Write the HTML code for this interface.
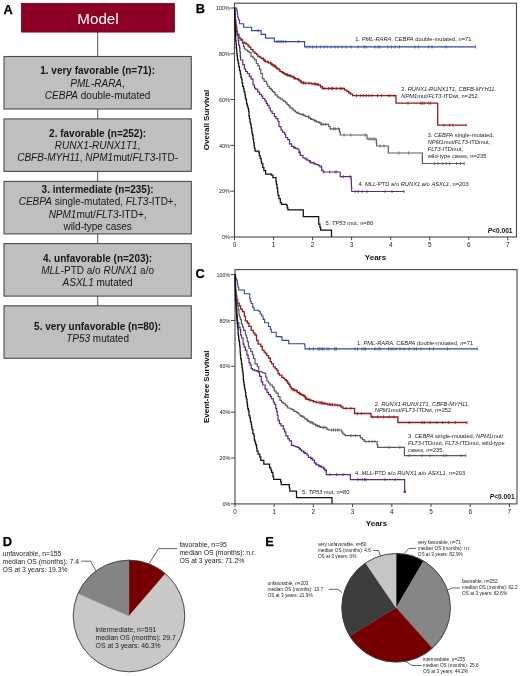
<!DOCTYPE html>
<html lang="en"><head><meta charset="utf-8"><title>Figure</title>
<style>html,body{margin:0;padding:0;background:#fff}svg{display:block;will-change:transform}</style>
</head><body>
<svg width="520" height="676" viewBox="0 0 520 676" font-family='"Liberation Sans", Arial, Helvetica, sans-serif'>
<rect x="0" y="0" width="520" height="676" fill="#ffffff"/>
<line x1="97.7" y1="30" x2="97.7" y2="310" stroke="#555555" stroke-width="1"/>
<rect x="21.3" y="3.3" width="153.2" height="28.8" fill="#8e0025" stroke="#5e0018" stroke-width="0.7"/>
<text x="98.00" y="23.70" font-size="15.20" text-anchor="middle" font-weight="normal" fill="#ffffff" >Model</text>
<text x="3.50" y="13.50" font-size="12.80" text-anchor="start" font-weight="bold" fill="#000" stroke="#000" stroke-width="0.25">A</text>
<rect x="4" y="56.5" width="187.3" height="52.5" fill="#bfbfbf" stroke="#4c4c4c" stroke-width="1.1"/>
<text x="97.60" y="74.45" font-size="10.00" text-anchor="middle" font-weight="bold" fill="#151515" >1. very favorable (n=71):</text>
<text x="97.60" y="86.60" font-size="10.00" text-anchor="middle" font-weight="normal" fill="#151515" ><tspan font-style="italic">PML-RARA</tspan>,</text>
<text x="97.60" y="98.75" font-size="10.00" text-anchor="middle" font-weight="normal" fill="#151515" ><tspan font-style="italic">CEBPA</tspan> double-mutated</text>
<rect x="4" y="118.9" width="187.3" height="52.5" fill="#bfbfbf" stroke="#4c4c4c" stroke-width="1.1"/>
<text x="97.60" y="136.85" font-size="10.00" text-anchor="middle" font-weight="bold" fill="#151515" >2. favorable (n=252):</text>
<text x="97.60" y="149.00" font-size="10.00" text-anchor="middle" font-weight="normal" fill="#151515" ><tspan font-style="italic">RUNX1-RUNX1T1</tspan>,</text>
<text x="97.60" y="161.15" font-size="10.00" text-anchor="middle" font-weight="normal" fill="#151515" ><tspan font-style="italic">CBFB-MYH11</tspan>, <tspan font-style="italic">NPM1</tspan>mut/<tspan font-style="italic">FLT3</tspan>-ITD-</text>
<rect x="4" y="181.4" width="187.3" height="52.5" fill="#bfbfbf" stroke="#4c4c4c" stroke-width="1.1"/>
<text x="97.60" y="193.28" font-size="10.00" text-anchor="middle" font-weight="bold" fill="#151515" >3. intermediate (n=235):</text>
<text x="97.60" y="205.43" font-size="10.00" text-anchor="middle" font-weight="normal" fill="#151515" ><tspan font-style="italic">CEBPA</tspan> single-mutated, <tspan font-style="italic">FLT3</tspan>-ITD+,</text>
<text x="97.60" y="217.58" font-size="10.00" text-anchor="middle" font-weight="normal" fill="#151515" ><tspan font-style="italic">NPM1</tspan>mut/<tspan font-style="italic">FLT3</tspan>-ITD+,</text>
<text x="97.60" y="229.73" font-size="10.00" text-anchor="middle" font-weight="normal" fill="#151515" >wild-type cases</text>
<rect x="4" y="243.6" width="187.3" height="52.5" fill="#bfbfbf" stroke="#4c4c4c" stroke-width="1.1"/>
<text x="97.60" y="261.55" font-size="10.00" text-anchor="middle" font-weight="bold" fill="#151515" >4. unfavorable (n=203):</text>
<text x="97.60" y="273.70" font-size="10.00" text-anchor="middle" font-weight="normal" fill="#151515" ><tspan font-style="italic">MLL</tspan>-PTD a/o <tspan font-style="italic">RUNX1</tspan> a/o</text>
<text x="97.60" y="285.85" font-size="10.00" text-anchor="middle" font-weight="normal" fill="#151515" ><tspan font-style="italic">ASXL1</tspan> mutated</text>
<rect x="4" y="305.8" width="187.3" height="52.5" fill="#bfbfbf" stroke="#4c4c4c" stroke-width="1.1"/>
<text x="97.60" y="329.83" font-size="10.00" text-anchor="middle" font-weight="bold" fill="#151515" >5. very unfavorable (n=80):</text>
<text x="97.60" y="341.98" font-size="10.00" text-anchor="middle" font-weight="normal" fill="#151515" ><tspan font-style="italic">TP53</tspan> mutated</text>
<rect x="234.5" y="3.2" width="282.0" height="233.8" fill="none" stroke="#454545" stroke-width="1.1"/>
<text x="229.80" y="239.15" font-size="6.00" text-anchor="end" font-weight="normal" fill="#1a1a1a" textLength="7.8" lengthAdjust="spacingAndGlyphs">0%</text>
<text x="229.80" y="193.35" font-size="6.00" text-anchor="end" font-weight="normal" fill="#1a1a1a" textLength="10.8" lengthAdjust="spacingAndGlyphs">20%</text>
<text x="229.80" y="147.55" font-size="6.00" text-anchor="end" font-weight="normal" fill="#1a1a1a" textLength="10.8" lengthAdjust="spacingAndGlyphs">40%</text>
<text x="229.80" y="101.75" font-size="6.00" text-anchor="end" font-weight="normal" fill="#1a1a1a" textLength="10.8" lengthAdjust="spacingAndGlyphs">60%</text>
<text x="229.80" y="55.95" font-size="6.00" text-anchor="end" font-weight="normal" fill="#1a1a1a" textLength="10.8" lengthAdjust="spacingAndGlyphs">80%</text>
<text x="229.80" y="10.15" font-size="6.00" text-anchor="end" font-weight="normal" fill="#1a1a1a" textLength="13.8" lengthAdjust="spacingAndGlyphs">100%</text>
<text x="234.50" y="246.70" font-size="6.40" text-anchor="middle" font-weight="normal" fill="#1a1a1a" >0</text>
<text x="273.55" y="246.70" font-size="6.40" text-anchor="middle" font-weight="normal" fill="#1a1a1a" >1</text>
<text x="312.60" y="246.70" font-size="6.40" text-anchor="middle" font-weight="normal" fill="#1a1a1a" >2</text>
<text x="351.65" y="246.70" font-size="6.40" text-anchor="middle" font-weight="normal" fill="#1a1a1a" >3</text>
<text x="390.70" y="246.70" font-size="6.40" text-anchor="middle" font-weight="normal" fill="#1a1a1a" >4</text>
<text x="429.75" y="246.70" font-size="6.40" text-anchor="middle" font-weight="normal" fill="#1a1a1a" >5</text>
<text x="468.80" y="246.70" font-size="6.40" text-anchor="middle" font-weight="normal" fill="#1a1a1a" >6</text>
<text x="507.85" y="246.70" font-size="6.40" text-anchor="middle" font-weight="normal" fill="#1a1a1a" >7</text>
<path d="M234.5 237.0 h-4.2 M234.5 191.2 h-4.2 M234.5 145.4 h-4.2 M234.5 99.6 h-4.2 M234.5 53.8 h-4.2 M234.5 8.0 h-4.2 M234.5 237.0 v3.2 M273.6 237.0 v3.2 M312.6 237.0 v3.2 M351.6 237.0 v3.2 M390.7 237.0 v3.2 M429.8 237.0 v3.2 M468.8 237.0 v3.2 M507.8 237.0 v3.2 " fill="none" stroke="#454545" stroke-width="1"/>
<text x="375.50" y="259.70" font-size="8.05" text-anchor="middle" font-weight="bold" fill="#111" >Years</text>
<text transform="translate(209.3 120.0) rotate(-90)" font-size="8.0" text-anchor="middle" font-weight="bold" fill="#111">Overall Survival</text>
<text x="195.70" y="13.40" font-size="12.80" text-anchor="start" font-weight="bold" fill="#000" stroke="#000" stroke-width="0.25">B</text>
<path d="M234.5 8.0 L236.7 8.0 L236.7 10.6 L237.3 10.6 L237.3 14.2 L237.7 14.2 L237.7 17.3 L238.4 17.3 L238.4 19.7 L239.6 19.7 L239.6 23.8 L243.6 23.8 L243.6 27.3 L251.6 27.3 L251.6 30.6 L261.2 30.6 L261.2 34.4 L265.6 34.4 L265.6 38.1 L274.3 38.1 L274.3 41.6 L304.6 41.6 L304.6 46.9 L475.6 46.9" fill="none" stroke="#34459a" stroke-width="1.10" stroke-linejoin="miter"/>
<path d="M258.0 29.0 v3.2 M277.0 40.0 v3.2 M279.0 40.0 v3.2 M281.0 40.0 v3.2 M283.0 40.0 v3.2 M285.8 40.0 v3.2 M298.3 40.0 v3.2 M307.0 45.3 v3.2 M310.0 45.3 v3.2 M312.7 45.3 v3.2 M316.5 45.3 v3.2 M320.4 45.3 v3.2 M324.2 45.3 v3.2 M327.0 45.3 v3.2 M331.0 45.3 v3.2 M335.0 45.3 v3.2 M338.0 45.3 v3.2 M342.0 45.3 v3.2 M346.0 45.3 v3.2 M351.0 45.3 v3.2 M358.0 45.3 v3.2 M364.0 45.3 v3.2 M366.0 45.3 v3.2 M375.0 45.3 v3.2 M378.0 45.3 v3.2 M380.0 45.3 v3.2 M388.0 45.3 v3.2 M391.5 45.3 v3.2 M395.0 45.3 v3.2 M399.5 45.3 v3.2 M415.0 45.3 v3.2 M418.5 45.3 v3.2 M428.6 45.3 v3.2 M432.0 45.3 v3.2 M446.0 45.3 v3.2 M475.6 45.3 v3.2 " fill="none" stroke="#34459a" stroke-width="0.75"/>
<path d="M234.5 8.0 L234.7 8.0 L234.7 14.0 L235.0 14.0 L235.0 16.8 L235.3 16.8 L235.3 20.0 L235.8 20.0 L235.8 25.0 L236.4 25.0 L236.4 26.9 L236.8 26.9 L236.8 31.5 L237.2 31.5 L237.2 34.2 L238.9 34.2 L238.9 37.6 L240.5 37.6 L240.5 39.4 L242.5 39.4 L242.5 42.2 L244.5 42.2 L244.5 43.0 L246.1 43.0 L246.1 44.1 L248.0 44.1 L248.0 45.8 L249.2 45.8 L249.2 47.2 L250.9 47.2 L250.9 49.7 L253.0 49.7 L253.0 51.8 L254.9 51.8 L254.9 53.3 L256.7 53.3 L256.7 54.6 L257.9 54.6 L257.9 56.5 L259.9 56.5 L259.9 57.4 L261.3 57.4 L261.3 58.7 L263.7 58.7 L263.7 60.5 L265.2 60.5 L265.2 61.3 L267.2 61.3 L267.2 62.1 L268.5 62.1 L268.5 62.8 L270.7 62.8 L270.7 63.9 L272.2 63.9 L272.2 65.0 L274.2 65.0 L274.2 66.4 L276.0 66.4 L276.0 67.9 L277.5 67.9 L277.5 68.9 L279.2 68.9 L279.2 70.1 L280.2 70.1 L280.2 71.7 L282.0 71.7 L282.0 72.4 L283.7 72.4 L283.7 73.7 L285.8 73.7 L285.8 74.6 L287.7 74.6 L287.7 75.4 L288.8 75.4 L288.8 75.7 L290.9 75.7 L290.9 76.3 L292.1 76.3 L292.1 77.0 L293.5 77.0 L293.5 77.8 L295.1 77.8 L295.1 78.6 L297.3 78.6 L297.3 79.4 L299.1 79.4 L299.1 80.8 L301.1 80.8 L301.1 82.3 L303.0 82.3 L303.0 83.0 L304.6 83.0 L304.6 83.1 L306.2 83.1 L306.2 83.2 L307.9 83.2 L307.9 83.2 L310.0 83.2 L310.0 83.3 L311.4 83.3 L311.4 83.6 L313.0 83.6 L313.0 83.9 L315.1 83.9 L315.1 84.1 L316.9 84.1 L316.9 84.5 L318.5 84.5 L318.5 84.8 L320.4 84.8 L320.4 86.6 L322.3 86.6 L322.3 88.5 L343.0 88.5 L344.5 88.5 L344.5 90.1 L347.0 90.1 L347.0 91.7 L348.8 91.7 L348.8 93.0 L350.6 93.0 L350.6 94.1 L352.7 94.1 L352.7 95.6 L396.0 95.6 L396.0 103.2 L437.7 103.2 L437.7 125.2 L466.2 125.2" fill="none" stroke="#8f1d1d" stroke-width="1.30" stroke-linejoin="miter"/>
<path d="M263.2 57.1 v3.2 M264.7 58.9 v3.2 M265.4 59.7 v3.2 M268.3 60.5 v3.2 M270.5 61.2 v3.2 M271.4 62.3 v3.2 M272.7 63.4 v3.2 M274.2 64.8 v3.2 M275.7 64.8 v3.2 M276.6 66.3 v3.2 M279.4 68.5 v3.2 M282.6 70.8 v3.2 M284.5 72.1 v3.2 M286.3 73.0 v3.2 M287.1 73.0 v3.2 M287.9 73.8 v3.2 M289.4 74.1 v3.2 M290.7 74.1 v3.2 M293.5 75.4 v3.2 M294.5 76.2 v3.2 M295.1 77.0 v3.2 M298.2 77.8 v3.2 M300.2 79.2 v3.2 M301.1 80.7 v3.2 M303.2 81.4 v3.2 M303.8 81.4 v3.2 M305.8 81.5 v3.2 M308.9 81.6 v3.2 M311.8 82.0 v3.2 M314.2 82.3 v3.2 M315.5 82.5 v3.2 M317.0 82.9 v3.2 M318.1 82.9 v3.2 M320.7 85.0 v3.2 M323.8 86.9 v3.2 M328.7 86.9 v3.2 M331.5 86.9 v3.2 M332.5 86.9 v3.2 M336.3 86.9 v3.2 M340.2 86.9 v3.2 M342.0 86.9 v3.2 M348.8 90.1 v3.2 M356.5 94.0 v3.2 M360.4 94.0 v3.2 M363.3 94.0 v3.2 M366.2 94.0 v3.2 M369.0 94.0 v3.2 M372.0 94.0 v3.2 M377.7 94.0 v3.2 M381.5 94.0 v3.2 M388.3 94.0 v3.2 M390.2 94.0 v3.2 M394.0 94.0 v3.2 M408.0 101.6 v3.2 M420.8 101.6 v3.2 M422.4 101.6 v3.2 M424.2 101.6 v3.2 M428.8 101.6 v3.2 M430.7 101.6 v3.2 M443.8 123.6 v3.2 M449.6 123.6 v3.2 M453.0 123.6 v3.2 M466.2 123.6 v3.2 " fill="none" stroke="#8f1d1d" stroke-width="0.75"/>
<path d="M234.5 8.0 L234.7 8.0 L234.7 11.8 L234.9 11.8 L234.9 15.3 L235.0 15.3 L235.0 18.6 L235.2 18.6 L235.2 22.0 L236.0 22.0 L236.0 27.8 L236.5 27.8 L236.5 31.4 L237.2 31.4 L237.2 35.0 L238.8 35.0 L238.8 38.1 L240.3 38.1 L240.3 40.2 L242.5 40.2 L242.5 43.3 L243.5 43.3 L243.5 46.4 L244.4 46.4 L244.4 49.0 L246.0 49.0 L246.0 50.0 L247.6 50.0 L247.6 51.4 L249.2 51.4 L249.2 52.6 L251.0 52.6 L251.0 56.3 L253.0 56.3 L253.0 58.0 L254.5 58.0 L254.5 59.9 L256.3 59.9 L256.3 63.5 L257.9 63.5 L257.9 65.8 L259.5 65.8 L259.5 69.4 L260.8 69.4 L260.8 73.5 L262.4 73.5 L262.4 78.6 L264.1 78.6 L264.1 81.4 L266.5 81.4 L266.5 84.0 L267.6 84.0 L267.6 86.5 L269.5 86.5 L269.5 88.4 L271.3 88.4 L271.3 89.9 L272.4 89.9 L272.4 91.6 L274.2 91.6 L274.2 92.7 L275.1 92.7 L275.1 94.8 L277.2 94.8 L277.2 96.8 L278.8 96.8 L278.8 97.8 L280.4 97.8 L280.4 99.0 L282.4 99.0 L282.4 100.2 L283.8 100.2 L283.8 101.3 L285.7 101.3 L285.7 102.8 L287.1 102.8 L287.1 104.7 L288.7 104.7 L288.7 105.9 L289.9 105.9 L289.9 107.9 L292.2 107.9 L292.2 109.2 L293.7 109.2 L293.7 110.6 L295.4 110.6 L295.4 112.0 L296.6 112.0 L296.6 112.8 L298.5 112.8 L298.5 113.5 L300.0 113.5 L300.0 114.1 L301.2 114.1 L301.2 114.7 L303.6 114.7 L303.6 115.4 L305.1 115.4 L305.1 116.3 L307.0 116.3 L307.0 116.7 L308.7 116.7 L308.7 117.8 L310.0 117.8 L310.0 118.5 L311.3 118.5 L311.3 119.3 L313.3 119.3 L313.3 120.1 L314.9 120.1 L314.9 120.9 L316.6 120.9 L316.6 121.8 L318.5 121.8 L318.5 122.5 L321.0 122.5 L321.0 124.3 L327.2 124.3 L328.7 124.3 L328.7 126.5 L330.0 126.5 L330.0 128.8 L339.0 128.8 L339.5 128.8 L339.5 132.0 L340.2 132.0 L340.2 135.0 L366.0 135.0 L367.0 135.0 L367.0 139.0 L375.8 139.0 L376.3 139.0 L376.3 142.9 L376.7 142.9 L376.7 146.0 L388.3 146.0 L388.3 153.0 L422.4 153.0 L422.4 163.5 L464.2 163.5" fill="none" stroke="#5a5a5a" stroke-width="1.20" stroke-linejoin="miter"/>
<path d="M298.3 111.2 v3.2 M303.2 113.1 v3.2 M308.7 115.1 v3.2 M310.5 116.9 v3.2 M315.0 119.3 v3.2 M319.3 120.9 v3.2 M321.1 122.7 v3.2 M323.0 122.7 v3.2 M325.8 122.7 v3.2 M333.5 127.2 v3.2 M335.4 127.2 v3.2 M338.3 127.2 v3.2 M344.0 133.4 v3.2 M350.8 133.4 v3.2 M365.2 133.4 v3.2 M369.0 137.4 v3.2 M371.0 137.4 v3.2 M373.0 137.4 v3.2 M374.8 137.4 v3.2 M380.0 144.4 v3.2 M384.0 144.4 v3.2 M398.8 151.4 v3.2 M408.6 151.4 v3.2 M434.6 161.9 v3.2 M438.0 161.9 v3.2 M442.7 161.9 v3.2 M446.2 161.9 v3.2 M449.6 161.9 v3.2 M456.5 161.9 v3.2 M460.5 161.9 v3.2 M464.2 161.9 v3.2 " fill="none" stroke="#5a5a5a" stroke-width="0.75"/>
<path d="M234.5 8.0 L234.7 8.0 L234.7 12.7 L234.8 12.7 L234.8 16.8 L235.0 16.8 L235.0 18.9 L235.1 18.9 L235.1 21.8 L235.2 21.8 L235.2 25.0 L235.9 25.0 L235.9 29.3 L236.5 29.3 L236.5 31.7 L237.3 31.7 L237.3 35.6 L238.2 35.6 L238.2 40.7 L238.7 40.7 L238.7 45.4 L239.6 45.4 L239.6 48.0 L239.9 48.0 L239.9 51.8 L240.3 51.8 L240.3 56.6 L240.6 56.6 L240.6 60.0 L242.8 60.0 L242.8 64.6 L244.3 64.6 L244.3 68.9 L245.6 68.9 L245.6 71.4 L247.3 71.4 L247.3 73.5 L249.4 73.5 L249.4 76.4 L251.1 76.4 L251.1 79.1 L253.0 79.1 L253.0 85.0 L254.5 85.0 L254.5 88.0 L255.6 88.0 L255.6 89.2 L257.8 89.2 L257.8 92.2 L259.6 92.2 L259.6 94.3 L261.6 94.3 L261.6 96.2 L262.7 96.2 L262.7 98.5 L264.9 98.5 L264.9 100.8 L266.3 100.8 L266.3 103.3 L267.4 103.3 L267.4 105.3 L269.1 105.3 L269.1 108.0 L270.4 108.0 L270.4 111.0 L272.1 111.0 L272.1 113.5 L274.4 113.5 L274.4 116.7 L276.0 116.7 L276.0 118.7 L278.0 118.7 L278.0 121.5 L279.0 121.5 L279.0 126.6 L281.0 126.6 L281.0 130.0 L282.5 130.0 L282.5 132.2 L284.7 132.2 L284.7 134.5 L285.7 134.5 L285.7 137.5 L287.7 137.5 L287.7 139.6 L289.5 139.6 L289.5 143.9 L291.5 143.9 L291.5 146.3 L293.6 146.3 L293.6 147.4 L295.5 147.4 L295.5 148.4 L297.3 148.4 L297.3 149.0 L298.9 149.0 L298.9 152.4 L300.3 152.4 L300.3 155.4 L303.0 155.4 L303.0 158.0 L304.9 158.0 L304.9 158.9 L306.8 158.9 L306.8 160.0 L308.4 160.0 L308.4 160.7 L309.6 160.7 L309.6 161.8 L310.8 161.8 L310.8 162.7 L312.9 162.7 L312.9 163.2 L314.9 163.2 L314.9 164.1 L316.5 164.1 L316.5 164.6 L318.6 164.6 L318.6 165.7 L320.0 165.7 L320.0 167.0 L321.7 167.0 L321.7 170.3 L323.0 170.3 L323.0 172.0 L338.3 172.0 L340.2 172.0 L340.2 176.7 L350.8 176.7 L351.1 176.7 L351.1 179.3 L351.3 179.3 L351.3 183.3 L351.4 183.3 L351.4 187.0 L351.7 187.0 L351.7 191.5 L404.0 191.5" fill="none" stroke="#5b2a7e" stroke-width="1.20" stroke-linejoin="miter"/>
<path d="M294.0 145.8 v3.2 M299.8 150.8 v3.2 M306.7 157.3 v3.2 M310.5 160.2 v3.2 M313.9 161.6 v3.2 M321.5 165.4 v3.2 M323.8 170.4 v3.2 M329.7 170.4 v3.2 M335.1 170.4 v3.2 M336.7 170.4 v3.2 M343.3 175.1 v3.2 M350.3 175.1 v3.2 M355.0 189.9 v3.2 M358.0 189.9 v3.2 M362.0 189.9 v3.2 M367.0 189.9 v3.2 M385.0 189.9 v3.2 M392.0 189.9 v3.2 M404.0 189.9 v3.2 " fill="none" stroke="#5b2a7e" stroke-width="0.75"/>
<path d="M234.5 8.0 L234.6 8.0 L234.6 11.9 L234.7 11.9 L234.7 15.1 L234.8 15.1 L234.8 19.2 L234.9 19.2 L234.9 22.7 L235.0 22.7 L235.0 26.3 L235.1 26.3 L235.1 28.4 L235.2 28.4 L235.2 30.0 L235.4 30.0 L235.4 34.0 L235.6 34.0 L235.6 37.9 L235.7 37.9 L235.7 41.0 L236.1 41.0 L236.1 44.3 L236.3 44.3 L236.3 47.9 L236.6 47.9 L236.6 49.6 L236.8 49.6 L236.8 53.5 L237.1 53.5 L237.1 55.8 L237.4 55.8 L237.4 57.6 L237.5 57.6 L237.5 60.0 L238.2 60.0 L238.2 63.0 L238.7 63.0 L238.7 66.6 L239.5 66.6 L239.5 70.5 L240.3 70.5 L240.3 73.9 L240.9 73.9 L240.9 77.4 L241.5 77.4 L241.5 79.2 L242.0 79.2 L242.0 82.8 L242.6 82.8 L242.6 86.4 L243.5 86.4 L243.5 88.8 L244.1 88.8 L244.1 91.9 L244.9 91.9 L244.9 94.8 L245.4 94.8 L245.4 97.8 L245.9 97.8 L245.9 99.6 L246.5 99.6 L246.5 103.9 L247.3 103.9 L247.3 106.0 L248.0 106.0 L248.0 108.6 L248.6 108.6 L248.6 111.1 L249.0 111.1 L249.0 116.1 L249.4 116.1 L249.4 118.5 L250.0 118.5 L250.0 122.3 L250.7 122.3 L250.7 124.5 L251.2 124.5 L251.2 128.0 L251.8 128.0 L251.8 131.6 L252.1 131.6 L252.1 133.6 L252.6 133.6 L252.6 135.4 L253.0 135.4 L253.0 139.1 L253.6 139.1 L253.6 142.6 L254.1 142.6 L254.1 145.5 L254.4 145.5 L254.4 147.9 L255.0 147.9 L255.0 151.0 L258.8 151.0 L258.8 152.0 L259.3 152.0 L259.3 155.5 L260.2 155.5 L260.2 158.4 L261.2 158.4 L261.2 161.8 L261.7 161.8 L261.7 163.7 L262.8 163.7 L262.8 167.6 L263.9 167.6 L263.9 170.7 L265.6 170.7 L265.6 174.0 L271.3 174.0 L271.3 175.0 L272.9 175.0 L272.9 177.5 L276.0 177.5 L276.0 182.0 L276.5 182.0 L276.5 184.3 L277.0 184.3 L277.0 188.2 L277.6 188.2 L277.6 191.9 L278.0 191.9 L278.0 195.4 L279.0 195.4 L279.0 198.7 L280.3 198.7 L280.3 202.6 L281.5 202.6 L281.5 204.3 L286.5 204.3 L286.5 205.0 L287.2 205.0 L287.2 207.8 L287.9 207.8 L287.9 209.8 L303.3 209.8 L303.3 216.5 L318.7 216.5 L318.7 224.2 L319.9 224.2 L319.9 227.3 L320.6 227.3 L320.6 230.0 L331.5 230.0 L331.5 237.0" fill="none" stroke="#111111" stroke-width="1.25" stroke-linejoin="miter"/>
<text x="355.30" y="40.80" font-size="5.75" text-anchor="start" font-weight="normal" fill="#222" >1. <tspan font-style="italic">PML-RARA, CEBPA</tspan> double-mutated, <tspan font-style="italic">n</tspan>=71</text>
<text x="401.30" y="91.20" font-size="5.75" text-anchor="start" font-weight="normal" fill="#222" >2. <tspan font-style="italic">RUNX1-RUNX1T1, CBFB-MYH11,</tspan></text>
<text x="401.30" y="97.95" font-size="5.75" text-anchor="start" font-weight="normal" fill="#222" ><tspan font-style="italic">NPM1</tspan>mut/<tspan font-style="italic">FLT3</tspan>-ITDwt, n=252</text>
<text x="427.70" y="137.40" font-size="5.75" text-anchor="start" font-weight="normal" fill="#222" >3. <tspan font-style="italic">CEBPA</tspan> single-mutated,</text>
<text x="427.70" y="144.15" font-size="5.75" text-anchor="start" font-weight="normal" fill="#222" ><tspan font-style="italic">NPM1</tspan>mut/<tspan font-style="italic">FLT3</tspan>-ITDmut,</text>
<text x="427.70" y="150.90" font-size="5.75" text-anchor="start" font-weight="normal" fill="#222" ><tspan font-style="italic">FLT3</tspan>-ITDmut,</text>
<text x="427.70" y="157.65" font-size="5.75" text-anchor="start" font-weight="normal" fill="#222" >wild-type cases, n=235</text>
<text x="358.50" y="185.50" font-size="5.75" text-anchor="start" font-weight="normal" fill="#222" >4. <tspan font-style="italic">MLL</tspan>-PTD a/o <tspan font-style="italic">RUNX1</tspan> a/o <tspan font-style="italic">ASXL1</tspan>, n=203</text>
<text x="325.60" y="225.30" font-size="5.75" text-anchor="start" font-weight="normal" fill="#222" >5. <tspan font-style="italic">TP53</tspan> mut, n=80</text>
<text x="512.50" y="233.20" font-size="6.60" text-anchor="end" font-weight="bold" fill="#111" ><tspan font-style="italic">P</tspan>&lt;0.001</text>
<rect x="235.0" y="269.6" width="282.0" height="234.3" fill="none" stroke="#454545" stroke-width="1.1"/>
<text x="230.30" y="506.05" font-size="6.00" text-anchor="end" font-weight="normal" fill="#1a1a1a" textLength="7.8" lengthAdjust="spacingAndGlyphs">0%</text>
<text x="230.30" y="460.19" font-size="6.00" text-anchor="end" font-weight="normal" fill="#1a1a1a" textLength="10.8" lengthAdjust="spacingAndGlyphs">20%</text>
<text x="230.30" y="414.33" font-size="6.00" text-anchor="end" font-weight="normal" fill="#1a1a1a" textLength="10.8" lengthAdjust="spacingAndGlyphs">40%</text>
<text x="230.30" y="368.47" font-size="6.00" text-anchor="end" font-weight="normal" fill="#1a1a1a" textLength="10.8" lengthAdjust="spacingAndGlyphs">60%</text>
<text x="230.30" y="322.61" font-size="6.00" text-anchor="end" font-weight="normal" fill="#1a1a1a" textLength="10.8" lengthAdjust="spacingAndGlyphs">80%</text>
<text x="230.30" y="276.75" font-size="6.00" text-anchor="end" font-weight="normal" fill="#1a1a1a" textLength="13.8" lengthAdjust="spacingAndGlyphs">100%</text>
<text x="235.00" y="513.60" font-size="6.40" text-anchor="middle" font-weight="normal" fill="#1a1a1a" >0</text>
<text x="274.20" y="513.60" font-size="6.40" text-anchor="middle" font-weight="normal" fill="#1a1a1a" >1</text>
<text x="313.40" y="513.60" font-size="6.40" text-anchor="middle" font-weight="normal" fill="#1a1a1a" >2</text>
<text x="352.60" y="513.60" font-size="6.40" text-anchor="middle" font-weight="normal" fill="#1a1a1a" >3</text>
<text x="391.80" y="513.60" font-size="6.40" text-anchor="middle" font-weight="normal" fill="#1a1a1a" >4</text>
<text x="431.00" y="513.60" font-size="6.40" text-anchor="middle" font-weight="normal" fill="#1a1a1a" >5</text>
<text x="470.20" y="513.60" font-size="6.40" text-anchor="middle" font-weight="normal" fill="#1a1a1a" >6</text>
<text x="509.40" y="513.60" font-size="6.40" text-anchor="middle" font-weight="normal" fill="#1a1a1a" >7</text>
<path d="M235.0 503.9 h-4.2 M235.0 458.0 h-4.2 M235.0 412.2 h-4.2 M235.0 366.3 h-4.2 M235.0 320.5 h-4.2 M235.0 274.6 h-4.2 M235.0 503.9 v3.2 M274.2 503.9 v3.2 M313.4 503.9 v3.2 M352.6 503.9 v3.2 M391.8 503.9 v3.2 M431.0 503.9 v3.2 M470.2 503.9 v3.2 M509.4 503.9 v3.2 " fill="none" stroke="#454545" stroke-width="1"/>
<text x="376.50" y="526.40" font-size="8.05" text-anchor="middle" font-weight="bold" fill="#111" >Years</text>
<text transform="translate(209.3 386.8) rotate(-90)" font-size="8.0" text-anchor="middle" font-weight="bold" fill="#111">Event-free Survival</text>
<text x="195.60" y="278.40" font-size="12.80" text-anchor="start" font-weight="bold" fill="#000" stroke="#000" stroke-width="0.25">C</text>
<path d="M235.0 274.6 L235.6 274.6 L235.6 278.2 L236.5 278.2 L236.5 280.0 L237.3 280.0 L237.3 284.0 L237.9 284.0 L237.9 287.0 L238.7 287.0 L238.7 290.0 L243.5 290.0 L244.4 290.0 L244.4 293.8 L249.2 293.8 L249.8 293.8 L249.8 298.5 L250.3 298.5 L250.3 301.5 L251.2 301.5 L251.2 303.5 L252.7 303.5 L252.7 307.4 L254.0 307.4 L254.0 310.2 L258.8 310.2 L258.8 311.2 L260.1 311.2 L260.1 314.0 L261.7 314.0 L261.7 316.0 L263.1 316.0 L263.1 319.4 L264.6 319.4 L264.6 322.7 L268.5 322.7 L268.5 326.5 L270.4 326.5 L270.4 329.2 L271.3 329.2 L271.3 332.3 L276.2 332.3 L276.2 336.6 L281.0 336.6 L281.0 336.9 L282.0 336.9 L282.0 340.4 L287.7 340.4 L288.7 340.4 L288.7 343.7 L304.2 343.7 L304.7 343.7 L304.7 345.3 L305.0 345.3 L305.0 348.9 L477.3 348.9" fill="none" stroke="#34459a" stroke-width="1.10" stroke-linejoin="miter"/>
<path d="M309.6 347.3 v3.2 M313.4 347.3 v3.2 M317.9 347.3 v3.2 M319.1 347.3 v3.2 M322.5 347.3 v3.2 M328.9 347.3 v3.2 M334.7 347.3 v3.2 M321.0 347.3 v3.2 M324.0 347.3 v3.2 M327.0 347.3 v3.2 M335.0 347.3 v3.2 M336.5 347.3 v3.2 M355.0 347.3 v3.2 M357.5 347.3 v3.2 M362.0 347.3 v3.2 M364.0 347.3 v3.2 M365.5 347.3 v3.2 M375.0 347.3 v3.2 M378.0 347.3 v3.2 M380.0 347.3 v3.2 M388.5 347.3 v3.2 M391.0 347.3 v3.2 M393.0 347.3 v3.2 M396.0 347.3 v3.2 M400.0 347.3 v3.2 M404.0 347.3 v3.2 M409.0 347.3 v3.2 M414.0 347.3 v3.2 M416.5 347.3 v3.2 M421.0 347.3 v3.2 M429.5 347.3 v3.2 M433.5 347.3 v3.2 M447.5 347.3 v3.2 M477.3 347.3 v3.2 " fill="none" stroke="#34459a" stroke-width="0.75"/>
<path d="M235.0 274.6 L235.2 274.6 L235.2 277.8 L235.4 277.8 L235.4 281.6 L235.5 281.6 L235.5 286.1 L235.6 286.1 L235.6 290.0 L236.0 290.0 L236.0 293.5 L236.4 293.5 L236.4 295.3 L236.7 295.3 L236.7 299.6 L237.6 299.6 L237.6 303.1 L239.3 303.1 L239.3 305.9 L240.6 305.9 L240.6 309.2 L242.4 309.2 L242.4 311.7 L244.3 311.7 L244.3 316.1 L245.4 316.1 L245.4 320.8 L247.3 320.8 L247.3 323.0 L248.9 323.0 L248.9 326.3 L251.2 326.3 L251.2 330.4 L253.3 330.4 L253.3 333.1 L255.0 333.1 L255.0 335.0 L256.5 335.0 L256.5 340.5 L258.1 340.5 L258.1 344.1 L260.8 344.1 L260.8 346.5 L262.3 346.5 L262.3 350.2 L264.1 350.2 L264.1 352.1 L265.5 352.1 L265.5 353.4 L266.8 353.4 L266.8 355.6 L268.5 355.6 L268.5 358.0 L270.3 358.0 L270.3 361.6 L271.5 361.6 L271.5 363.6 L273.4 363.6 L273.4 366.8 L275.2 366.8 L275.2 368.6 L276.8 368.6 L276.8 370.4 L278.0 370.4 L278.0 373.5 L279.4 373.5 L279.4 375.2 L281.8 375.2 L281.8 377.4 L283.5 377.4 L283.5 378.4 L284.8 378.4 L284.8 379.7 L286.1 379.7 L286.1 380.8 L287.7 380.8 L287.7 383.0 L288.9 383.0 L288.9 384.7 L290.0 384.7 L290.0 386.7 L291.2 386.7 L291.2 388.7 L292.8 388.7 L292.8 389.8 L295.0 389.8 L295.0 390.7 L297.3 390.7 L297.3 392.7 L299.4 392.7 L299.4 393.6 L300.4 393.6 L300.4 394.3 L302.4 394.3 L302.4 395.4 L304.0 395.4 L304.0 396.5 L305.5 396.5 L305.5 398.5 L307.0 398.5 L307.0 399.4 L309.0 399.4 L309.0 399.7 L310.1 399.7 L310.1 400.2 L311.4 400.2 L311.4 400.7 L313.3 400.7 L313.3 401.5 L315.1 401.5 L315.1 401.8 L316.5 401.8 L316.5 402.3 L318.7 402.3 L318.7 402.5 L319.8 402.5 L319.8 402.9 L321.4 402.9 L321.4 403.1 L323.5 403.1 L323.5 403.5 L325.6 403.5 L325.6 403.9 L326.6 403.9 L326.6 404.2 L327.7 404.2 L327.7 404.4 L330.0 404.4 L330.0 404.6 L331.9 404.6 L331.9 404.8 L333.3 404.8 L333.3 404.9 L335.3 404.9 L335.3 405.1 L336.8 405.1 L336.8 405.2 L338.2 405.2 L338.2 405.3 L339.2 405.3 L339.2 405.4 L341.1 405.4 L341.1 407.0 L343.0 407.0 L343.0 408.3 L353.7 408.3 L354.6 408.3 L354.6 413.5 L370.0 413.5 L371.0 413.5 L371.0 417.0 L397.0 417.0 L397.9 417.0 L397.9 422.5 L467.0 422.5" fill="none" stroke="#8f1d1d" stroke-width="1.30" stroke-linejoin="miter"/>
<path d="M286.6 379.2 v3.2 M289.4 383.1 v3.2 M291.7 387.1 v3.2 M293.2 388.2 v3.2 M294.7 388.2 v3.2 M296.3 389.1 v3.2 M299.1 391.1 v3.2 M299.9 392.0 v3.2 M301.1 392.7 v3.2 M303.8 393.8 v3.2 M305.1 394.9 v3.2 M305.9 396.9 v3.2 M306.6 396.9 v3.2 M308.7 397.8 v3.2 M310.2 398.6 v3.2 M313.6 399.9 v3.2 M316.7 400.7 v3.2 M320.0 401.3 v3.2 M321.4 401.3 v3.2 M322.2 401.5 v3.2 M323.1 401.5 v3.2 M325.1 401.9 v3.2 M327.7 402.6 v3.2 M329.5 402.8 v3.2 M330.8 403.0 v3.2 M332.5 403.2 v3.2 M334.9 403.3 v3.2 M337.3 403.6 v3.2 M340.0 403.8 v3.2 M346.0 406.7 v3.2 M350.8 406.7 v3.2 M357.5 411.9 v3.2 M361.3 411.9 v3.2 M372.9 415.4 v3.2 M377.7 415.4 v3.2 M383.5 415.4 v3.2 M389.2 415.4 v3.2 M394.0 415.4 v3.2 M409.2 420.9 v3.2 M422.0 420.9 v3.2 M424.2 420.9 v3.2 M430.0 420.9 v3.2 M437.0 420.9 v3.2 M442.7 420.9 v3.2 M448.5 420.9 v3.2 M455.4 420.9 v3.2 M467.0 420.9 v3.2 " fill="none" stroke="#8f1d1d" stroke-width="0.75"/>
<path d="M235.0 274.6 L235.1 274.6 L235.1 278.1 L235.2 278.1 L235.2 283.1 L235.4 283.1 L235.4 286.0 L235.5 286.0 L235.5 289.0 L235.6 289.0 L235.6 292.0 L236.0 292.0 L236.0 297.1 L236.7 297.1 L236.7 301.0 L237.3 301.0 L237.3 305.6 L238.3 305.6 L238.3 309.6 L239.0 309.6 L239.0 314.9 L239.6 314.9 L239.6 317.0 L240.4 317.0 L240.4 319.7 L241.4 319.7 L241.4 323.8 L242.4 323.8 L242.4 326.9 L243.5 326.9 L243.5 330.4 L245.4 330.4 L245.4 335.0 L246.5 335.0 L246.5 337.5 L247.3 337.5 L247.3 341.7 L248.4 341.7 L248.4 346.5 L249.2 346.5 L249.2 348.5 L250.8 348.5 L250.8 351.6 L252.5 351.6 L252.5 354.9 L253.6 354.9 L253.6 358.5 L255.0 358.5 L255.0 363.8 L257.3 363.8 L257.3 366.7 L258.8 366.7 L258.8 371.5 L261.2 371.5 L261.2 372.0 L262.8 372.0 L262.8 372.8 L264.6 372.8 L264.6 373.5 L265.7 373.5 L265.7 377.1 L266.9 377.1 L266.9 381.0 L268.5 381.0 L268.5 383.0 L270.0 383.0 L270.0 385.0 L272.3 385.0 L272.3 387.1 L274.2 387.1 L274.2 390.8 L276.0 390.8 L276.0 393.1 L278.2 393.1 L278.2 396.6 L280.0 396.6 L280.0 400.4 L281.6 400.4 L281.6 402.2 L283.0 402.2 L283.0 403.4 L285.2 403.4 L285.2 405.1 L286.6 405.1 L286.6 406.2 L287.7 406.2 L287.7 408.0 L290.1 408.0 L290.1 408.8 L292.0 408.8 L292.0 409.7 L293.5 409.7 L293.5 410.8 L294.7 410.8 L294.7 411.5 L296.7 411.5 L296.7 412.6 L298.3 412.6 L298.3 414.0 L300.0 414.0 L300.0 415.7 L301.3 415.7 L301.3 416.4 L302.8 416.4 L302.8 417.1 L304.6 417.1 L304.6 418.8 L307.0 418.8 L307.0 420.4 L308.6 420.4 L308.6 421.5 L309.6 421.5 L309.6 422.2 L311.8 422.2 L311.8 422.9 L313.3 422.9 L313.3 424.1 L315.4 424.1 L315.4 425.3 L317.2 425.3 L317.2 425.9 L319.2 425.9 L319.2 426.5 L320.4 426.5 L320.4 427.3 L322.5 427.3 L322.5 427.3 L324.4 427.3 L324.4 427.4 L325.8 427.4 L325.8 427.5 L326.9 427.5 L326.9 429.3 L328.7 429.3 L328.7 430.0 L339.2 430.0 L341.6 430.0 L341.6 432.0 L342.9 432.0 L342.9 434.1 L345.0 434.1 L345.0 435.6 L358.5 435.6 L360.3 435.6 L360.3 437.8 L362.4 437.8 L362.4 439.7 L364.2 439.7 L364.2 441.5 L376.7 441.5 L377.1 441.5 L377.1 444.8 L377.7 444.8 L377.7 447.3 L404.4 447.3 L404.4 455.6 L465.8 455.6" fill="none" stroke="#5a5a5a" stroke-width="1.20" stroke-linejoin="miter"/>
<path d="M302.7 414.8 v3.2 M307.5 418.8 v3.2 M310.8 420.6 v3.2 M312.8 421.3 v3.2 M316.1 423.7 v3.2 M317.7 424.3 v3.2 M319.4 424.9 v3.2 M323.0 425.7 v3.2 M325.0 425.8 v3.2 M331.5 428.4 v3.2 M333.5 428.4 v3.2 M335.5 428.4 v3.2 M337.5 428.4 v3.2 M339.0 428.4 v3.2 M350.8 434.0 v3.2 M355.6 434.0 v3.2 M366.0 439.9 v3.2 M369.0 439.9 v3.2 M372.0 439.9 v3.2 M374.8 439.9 v3.2 M389.2 445.7 v3.2 M399.8 445.7 v3.2 M409.3 454.0 v3.2 M422.0 454.0 v3.2 M430.0 454.0 v3.2 M443.8 454.0 v3.2 M446.2 454.0 v3.2 M461.2 454.0 v3.2 M465.8 454.0 v3.2 " fill="none" stroke="#5a5a5a" stroke-width="0.75"/>
<path d="M235.0 274.6 L235.1 274.6 L235.1 277.1 L235.2 277.1 L235.2 282.6 L235.4 282.6 L235.4 288.1 L235.4 288.1 L235.4 292.6 L235.6 292.6 L235.6 295.0 L235.9 295.0 L235.9 299.5 L236.1 299.5 L236.1 301.9 L236.5 301.9 L236.5 307.1 L236.7 307.1 L236.7 310.5 L237.0 310.5 L237.0 315.5 L237.4 315.5 L237.4 320.4 L237.7 320.4 L237.7 322.7 L238.8 322.7 L238.8 327.4 L240.1 327.4 L240.1 329.9 L240.7 329.9 L240.7 335.1 L241.5 335.1 L241.5 338.0 L243.1 338.0 L243.1 344.1 L244.1 344.1 L244.1 347.1 L245.4 347.1 L245.4 350.4 L246.9 350.4 L246.9 354.8 L248.1 354.8 L248.1 358.4 L249.0 358.4 L249.0 362.7 L250.1 362.7 L250.1 364.8 L251.2 364.8 L251.2 368.7 L252.6 368.7 L252.6 369.8 L254.7 369.8 L254.7 370.6 L257.0 370.6 L257.0 371.4 L258.8 371.4 L258.8 372.5 L259.6 372.5 L259.6 376.3 L261.3 376.3 L261.3 381.8 L262.7 381.8 L262.7 385.0 L265.1 385.0 L265.1 389.2 L267.0 389.2 L267.0 392.3 L268.5 392.3 L268.5 394.6 L270.4 394.6 L270.4 396.3 L271.3 396.3 L271.3 398.7 L273.3 398.7 L273.3 402.0 L274.5 402.0 L274.5 404.3 L275.7 404.3 L275.7 408.4 L276.7 408.4 L276.7 411.7 L277.3 411.7 L277.3 415.4 L278.0 415.4 L278.0 420.4 L279.4 420.4 L279.4 423.6 L281.0 423.6 L281.0 425.9 L283.3 425.9 L283.3 429.1 L284.6 429.1 L284.6 431.8 L285.8 431.8 L285.8 435.8 L287.9 435.8 L287.9 438.9 L289.4 438.9 L289.4 440.9 L291.5 440.9 L291.5 445.4 L293.6 445.4 L293.6 446.0 L295.5 446.0 L295.5 446.7 L297.3 446.7 L297.3 447.3 L299.0 447.3 L299.0 448.6 L300.4 448.6 L300.4 449.6 L301.5 449.6 L301.5 451.2 L303.5 451.2 L303.5 452.6 L305.4 452.6 L305.4 453.4 L307.0 453.4 L307.0 455.0 L308.4 455.0 L308.4 457.3 L310.6 457.3 L310.6 458.3 L312.7 458.3 L312.7 460.2 L314.4 460.2 L314.4 462.8 L315.8 462.8 L315.8 464.0 L316.9 464.0 L316.9 464.8 L318.5 464.8 L318.5 465.7 L320.0 465.7 L320.0 466.6 L321.7 466.6 L321.7 467.2 L323.5 467.2 L323.5 468.8 L324.9 468.8 L324.9 470.4 L326.3 470.4 L326.3 474.6 L350.4 474.6 L350.4 479.6 L404.6 479.6 L404.6 491.8" fill="none" stroke="#5b2a7e" stroke-width="1.20" stroke-linejoin="miter"/>
<path d="M299.7 447.0 v3.2 M304.5 451.0 v3.2 M311.2 456.7 v3.2 M315.8 462.4 v3.2 M318.9 464.1 v3.2 M321.2 465.0 v3.2 M324.3 467.2 v3.2 M326.1 468.8 v3.2 M329.9 473.0 v3.2 M336.7 473.0 v3.2 M343.0 473.0 v3.2 M358.0 478.0 v3.2 M362.0 478.0 v3.2 M364.5 478.0 v3.2 M366.0 478.0 v3.2 M385.0 478.0 v3.2 M395.0 478.0 v3.2 " fill="none" stroke="#5b2a7e" stroke-width="0.75"/>
<path d="M235.0 274.6 L235.1 274.6 L235.1 279.1 L235.1 279.1 L235.1 281.3 L235.2 281.3 L235.2 285.6 L235.2 285.6 L235.2 287.1 L235.3 287.1 L235.3 289.5 L235.4 289.5 L235.4 291.7 L235.4 291.7 L235.4 295.6 L235.5 295.6 L235.5 300.0 L235.8 300.0 L235.8 303.8 L236.0 303.8 L236.0 308.2 L236.3 308.2 L236.3 311.1 L236.5 311.1 L236.5 315.1 L236.7 315.1 L236.7 318.5 L237.0 318.5 L237.0 321.1 L237.2 321.1 L237.2 323.3 L237.5 323.3 L237.5 326.9 L237.8 326.9 L237.8 328.8 L238.1 328.8 L238.1 333.3 L238.3 333.3 L238.3 335.3 L238.6 335.3 L238.6 337.0 L238.8 337.0 L238.8 340.4 L239.3 340.4 L239.3 342.0 L239.6 342.0 L239.6 345.0 L239.9 345.0 L239.9 347.4 L240.1 347.4 L240.1 351.0 L240.3 351.0 L240.3 354.6 L240.7 354.6 L240.7 358.5 L241.1 358.5 L241.1 360.0 L241.5 360.0 L241.5 363.8 L242.0 363.8 L242.0 367.8 L242.5 367.8 L242.5 370.6 L242.8 370.6 L242.8 372.8 L243.1 372.8 L243.1 374.9 L243.3 374.9 L243.3 379.4 L243.6 379.4 L243.6 381.9 L244.0 381.9 L244.0 384.8 L244.5 384.8 L244.5 388.1 L244.9 388.1 L244.9 390.0 L245.4 390.0 L245.4 392.7 L245.8 392.7 L245.8 396.3 L246.4 396.3 L246.4 398.8 L246.9 398.8 L246.9 402.2 L247.3 402.2 L247.3 405.0 L247.7 405.0 L247.7 408.5 L248.4 408.5 L248.4 410.9 L249.0 410.9 L249.0 415.5 L249.8 415.5 L249.8 417.5 L250.4 417.5 L250.4 421.9 L251.2 421.9 L251.2 424.2 L251.6 424.2 L251.6 427.1 L252.1 427.1 L252.1 429.6 L252.9 429.6 L252.9 433.6 L253.9 433.6 L253.9 435.8 L254.3 435.8 L254.3 440.1 L255.0 440.1 L255.0 442.4 L255.7 442.4 L255.7 444.5 L256.5 444.5 L256.5 448.1 L257.0 448.1 L257.0 451.0 L258.1 451.0 L258.1 454.2 L259.8 454.2 L259.8 457.2 L260.8 457.2 L260.8 460.4 L263.8 460.4 L263.8 464.0 L269.6 464.0 L269.6 467.9 L270.9 467.9 L270.9 470.0 L271.6 470.0 L271.6 472.3 L272.9 472.3 L272.9 476.4 L273.5 476.4 L273.5 479.4 L280.2 479.4 L280.6 479.4 L280.6 481.7 L281.2 481.7 L281.2 484.6 L288.8 484.6 L289.3 484.6 L289.3 487.9 L289.8 487.9 L289.8 491.0 L296.5 491.0 L296.5 497.7 L332.0 497.7 L332.0 503.8" fill="none" stroke="#111111" stroke-width="1.25" stroke-linejoin="miter"/>
<text x="357.00" y="345.00" font-size="5.75" text-anchor="start" font-weight="normal" fill="#222" >1. <tspan font-style="italic">PML-RARA, CEBPA</tspan> double-mutated, <tspan font-style="italic">n</tspan>=71</text>
<text x="374.80" y="405.70" font-size="5.75" text-anchor="start" font-weight="normal" fill="#222" >2. <tspan font-style="italic">RUNX1-RUNX1T1, CBFB-MYH11,</tspan></text>
<text x="374.80" y="412.45" font-size="5.75" text-anchor="start" font-weight="normal" fill="#222" ><tspan font-style="italic">NPM1</tspan>mut/<tspan font-style="italic">FLT3</tspan>-ITDwt, n=252</text>
<text x="408.00" y="438.00" font-size="5.75" text-anchor="start" font-weight="normal" fill="#222" >3. <tspan font-style="italic">CEBPA</tspan> single-mutated, <tspan font-style="italic">NPM1</tspan>mut/</text>
<text x="408.00" y="444.75" font-size="5.75" text-anchor="start" font-weight="normal" fill="#222" ><tspan font-style="italic">FLT3</tspan>-ITDmut, <tspan font-style="italic">FLT3</tspan>-ITDmut, wild-type</text>
<text x="408.00" y="451.50" font-size="5.75" text-anchor="start" font-weight="normal" fill="#222" >cases, n=235</text>
<text x="355.00" y="475.00" font-size="5.75" text-anchor="start" font-weight="normal" fill="#222" >4. <tspan font-style="italic">MLL</tspan>-PTD a/o <tspan font-style="italic">RUNX1</tspan> a/o <tspan font-style="italic">ASXL1</tspan>, n=203</text>
<text x="302.00" y="494.30" font-size="5.75" text-anchor="start" font-weight="normal" fill="#222" >5. <tspan font-style="italic">TP53</tspan> mut, n=80</text>
<text x="514.60" y="499.30" font-size="6.60" text-anchor="end" font-weight="bold" fill="#111" ><tspan font-style="italic">P</tspan>&lt;0.001</text>
<circle cx="404.8" cy="491.8" r="1.3" fill="#5b2a7e"/>
<text x="2.80" y="545.60" font-size="12.80" text-anchor="start" font-weight="bold" fill="#000" stroke="#000" stroke-width="0.25">D</text>
<path d="M129.00 616.00 L129.00 560.20 A55.80 55.80 0 0 1 165.36 573.67 Z" fill="#760000" stroke="#760000" stroke-width="0.35" stroke-linejoin="round"/>
<path d="M129.00 616.00 L165.36 573.67 A55.80 55.80 0 1 1 77.89 593.62 Z" fill="#c8c8c8" stroke="#c8c8c8" stroke-width="0.35" stroke-linejoin="round"/>
<path d="M129.00 616.00 L77.89 593.62 A55.80 55.80 0 0 1 129.00 560.20 Z" fill="#848484" stroke="#848484" stroke-width="0.35" stroke-linejoin="round"/>
<circle cx="129.00" cy="616.00" r="55.80" fill="none" stroke="#3c3c3c" stroke-width="0.9"/>
<text x="2.60" y="556.20" font-size="6.85" text-anchor="start" font-weight="normal" fill="#1c1c1c" >unfavorable, n=155</text>
<text x="2.60" y="564.30" font-size="6.85" text-anchor="start" font-weight="normal" fill="#1c1c1c" >median OS (months): 7.4</text>
<text x="2.60" y="572.40" font-size="6.85" text-anchor="start" font-weight="normal" fill="#1c1c1c" >OS at 3 years: 19.3%</text>
<path d="M81.2 561.2 L90.6 561.2 L96.0 571.0" fill="none" stroke="#3c3c3c" stroke-width="0.8"/>
<text x="179.40" y="547.00" font-size="6.85" text-anchor="start" font-weight="normal" fill="#1c1c1c" >favorable, n=95</text>
<text x="179.40" y="555.10" font-size="6.85" text-anchor="start" font-weight="normal" fill="#1c1c1c" >median OS (months): n.r.</text>
<text x="179.40" y="563.20" font-size="6.85" text-anchor="start" font-weight="normal" fill="#1c1c1c" >OS at 3 years: 71.2%</text>
<path d="M177.0 548.6 L158.5 548.6 L149.4 563.2" fill="none" stroke="#3c3c3c" stroke-width="0.8"/>
<text x="95.60" y="631.80" font-size="6.85" text-anchor="start" font-weight="normal" fill="#1c1c1c" >intermediate, n=591</text>
<text x="95.60" y="640.10" font-size="6.85" text-anchor="start" font-weight="normal" fill="#1c1c1c" >median OS (months): 29.7</text>
<text x="95.60" y="648.40" font-size="6.85" text-anchor="start" font-weight="normal" fill="#1c1c1c" >OS at 3 years: 46.3%</text>
<text x="265.30" y="545.60" font-size="12.80" text-anchor="start" font-weight="bold" fill="#000" stroke="#000" stroke-width="0.25">E</text>
<path d="M396.10 607.80 L396.10 553.50 A54.30 54.30 0 0 1 423.57 560.96 Z" fill="#000000" stroke="#000000" stroke-width="0.35" stroke-linejoin="round"/>
<path d="M396.10 607.80 L423.57 560.96 A54.30 54.30 0 0 1 432.25 648.32 Z" fill="#868686" stroke="#868686" stroke-width="0.35" stroke-linejoin="round"/>
<path d="M396.10 607.80 L432.25 648.32 A54.30 54.30 0 0 1 349.63 635.88 Z" fill="#760000" stroke="#760000" stroke-width="0.35" stroke-linejoin="round"/>
<path d="M396.10 607.80 L349.63 635.88 A54.30 54.30 0 0 1 365.54 562.91 Z" fill="#3c3c3c" stroke="#3c3c3c" stroke-width="0.35" stroke-linejoin="round"/>
<path d="M396.10 607.80 L365.54 562.91 A54.30 54.30 0 0 1 396.10 553.50 Z" fill="#c6c6c6" stroke="#c6c6c6" stroke-width="0.35" stroke-linejoin="round"/>
<circle cx="396.10" cy="607.80" r="54.30" fill="none" stroke="#3c3c3c" stroke-width="0.9"/>
<text x="317.90" y="545.80" font-size="4.75" text-anchor="start" font-weight="normal" fill="#1c1c1c" >very unfavorable, n=80</text>
<text x="317.90" y="551.80" font-size="4.75" text-anchor="start" font-weight="normal" fill="#1c1c1c" >median OS (months): 4.6</text>
<text x="317.90" y="557.80" font-size="4.75" text-anchor="start" font-weight="normal" fill="#1c1c1c" >OS at 3 years: 0%</text>
<path d="M373.0 550.5 L378.5 550.5 L380.6 556.0" fill="none" stroke="#3c3c3c" stroke-width="0.8"/>
<text x="417.70" y="544.40" font-size="4.75" text-anchor="start" font-weight="normal" fill="#1c1c1c" >very favorable, n=71</text>
<text x="417.70" y="550.40" font-size="4.75" text-anchor="start" font-weight="normal" fill="#1c1c1c" >median OS (months): n.r.</text>
<text x="417.70" y="556.40" font-size="4.75" text-anchor="start" font-weight="normal" fill="#1c1c1c" >OS at 3 years: 82.9%</text>
<path d="M416.3 548.4 L409.0 548.4 L403.8 554.0" fill="none" stroke="#3c3c3c" stroke-width="0.8"/>
<text x="462.00" y="583.40" font-size="4.75" text-anchor="start" font-weight="normal" fill="#1c1c1c" >favorable, n=252</text>
<text x="462.00" y="589.40" font-size="4.75" text-anchor="start" font-weight="normal" fill="#1c1c1c" >median OS (months): 62.2</text>
<text x="462.00" y="595.40" font-size="4.75" text-anchor="start" font-weight="normal" fill="#1c1c1c" >OS at 3 years: 62.6%</text>
<path d="M460.0 588.0 L452.0 588.0 L447.4 590.0" fill="none" stroke="#3c3c3c" stroke-width="0.8"/>
<text x="423.00" y="661.40" font-size="4.75" text-anchor="start" font-weight="normal" fill="#1c1c1c" >intermediate, n=235</text>
<text x="423.00" y="667.40" font-size="4.75" text-anchor="start" font-weight="normal" fill="#1c1c1c" >median OS (months): 25.6</text>
<text x="423.00" y="673.40" font-size="4.75" text-anchor="start" font-weight="normal" fill="#1c1c1c" >OS at 3 years: 44.2%</text>
<path d="M421.7 665.5 L412.3 665.5 L404.4 660.6" fill="none" stroke="#3c3c3c" stroke-width="0.8"/>
<text x="267.50" y="585.00" font-size="4.75" text-anchor="start" font-weight="normal" fill="#1c1c1c" >unfavorable, n=203</text>
<text x="267.50" y="591.00" font-size="4.75" text-anchor="start" font-weight="normal" fill="#1c1c1c" >median OS (months): 13.7</text>
<text x="267.50" y="597.00" font-size="4.75" text-anchor="start" font-weight="normal" fill="#1c1c1c" >OS at 3 years: 21.9%</text>
<path d="M328.7 589.3 L338.0 589.3 L342.2 592.8" fill="none" stroke="#3c3c3c" stroke-width="0.8"/>
</svg></body></html>
